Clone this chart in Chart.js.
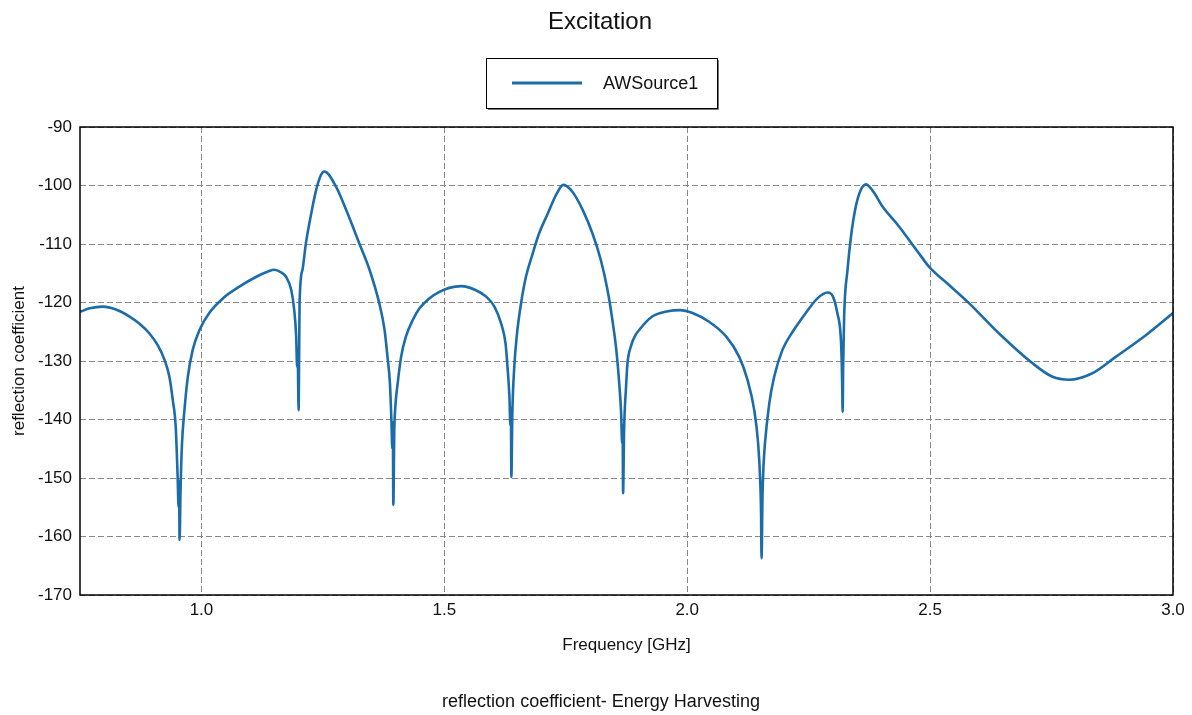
<!DOCTYPE html>
<html>
<head>
<meta charset="utf-8">
<script src="https://cdn.jsdelivr.net/npm/chart.js@4.4.0/dist/chart.umd.min.js"></script>
<style>
  html, body { margin: 0; padding: 0; background: #fff; }
</style>
</head>
<body>
<canvas id="chart" width="1192" height="715"></canvas>
<script>
// frequency sweep (GHz) and reflection coefficient
const freqGHz = [
  0.75, 0.770, 0.797, 0.824, 0.852, 0.872, 0.893, 0.910, 0.924, 0.934, 0.941, 0.947, 0.951, 0.953, 0.954,
  0.955, 0.957, 0.960, 0.965, 0.972, 0.982, 0.996, 1.016, 1.044, 1.078, 1.113, 1.137, 1.150, 1.163, 1.174,
  1.185, 1.191, 1.195, 1.197, 1.198, 1.200, 1.201, 1.202, 1.208, 1.215, 1.226, 1.236, 1.246, 1.253,
  1.277, 1.298, 1.325, 1.346, 1.366, 1.377, 1.383, 1.388, 1.391, 1.393, 1.394, 1.395, 1.397, 1.399,
  1.404, 1.411, 1.421, 1.435, 1.449, 1.469, 1.490, 1.510, 1.535, 1.565, 1.586, 1.603, 1.617, 1.626,
  1.630, 1.634, 1.636, 1.637, 1.638, 1.640, 1.644, 1.649, 1.658, 1.668, 1.682, 1.695, 1.713, 1.730,
  1.745, 1.764, 1.785, 1.805, 1.822, 1.836, 1.846, 1.854, 1.860, 1.864, 1.866, 1.867, 1.868, 1.870,
  1.874, 1.877, 1.884, 1.892, 1.901, 1.928, 1.960, 1.985, 2.011, 2.045, 2.080, 2.107, 2.124, 2.138,
  2.146, 2.150, 2.152, 2.153, 2.155, 2.157, 2.160, 2.169, 2.179, 2.196, 2.217, 2.244, 2.268, 2.289,
  2.300, 2.309, 2.316, 2.318, 2.319, 2.320, 2.321, 2.323, 2.330, 2.337, 2.347, 2.357, 2.368, 2.381,
  2.402, 2.436, 2.477, 2.498, 2.539, 2.580, 2.642, 2.711, 2.752, 2.786, 2.834, 2.882, 2.944, 3.0
];
const reflection = [
  -121.6, -121.0, -120.7, -121.2, -122.4, -123.6, -125.3, -127.3, -129.8, -132.7, -136.7, -141.2, -149.8, -155.0, -150.5,
  -160.6, -152.0, -144.1, -138.4, -132.7, -128.1, -124.7, -121.8, -119.3, -117.3, -115.6, -114.7, -114.4, -114.8, -115.6,
  -117.9, -121.3, -125.8, -131.0, -128.0, -138.4, -130.0, -120.1, -114.4, -109.9, -104.8, -100.8, -98.2, -97.6,
  -100.2, -104.2, -109.9, -114.4, -120.1, -124.7, -129.3, -133.8, -140.0, -145.0, -140.5, -154.6, -142.0, -138.0,
  -133.8, -129.3, -125.8, -123.0, -121.0, -119.3, -118.2, -117.5, -117.2, -117.9, -119.0, -120.7, -123.6, -127.0,
  -131.0, -136.1, -141.0, -138.0, -149.8, -139.0, -131.0, -125.8, -120.1, -115.6, -111.6, -108.2, -104.8, -101.6,
  -99.9, -101.1, -104.2, -108.2, -112.7, -117.9, -123.0, -128.1, -133.8, -139.0, -144.0, -141.0, -152.6, -142.0,
  -134.5, -130.4, -127.5, -125.8, -124.7, -122.4, -121.5, -121.3, -121.8, -123.3, -125.8, -129.3, -133.2, -138.4,
  -144.1, -150.0, -156.0, -163.7, -153.0, -148.0, -144.1, -137.2, -132.7, -128.1, -125.0, -121.8, -119.3, -118.3,
  -119.0, -121.8, -125.8, -130.0, -134.0, -138.7, -131.0, -122.4, -114.4, -108.8, -103.6, -100.8, -99.8, -100.8,
  -103.6, -107.0, -111.6, -113.9, -117.0, -120.1, -125.3, -130.4, -132.7, -133.2, -132.1, -129.3, -125.6, -121.8
];
const xTicks = [1.0, 1.5, 2.0, 2.5, 3.0];
const yTicks = [-90, -100, -110, -120, -130, -140, -150, -160, -170];

const seriesName = "AWSource1";
const lineColor = "#1b6ca8";
const font = "Liberation Sans, Arial, sans-serif";

// title, framed legend, plot border and caption
const decor = {
  id: "decor",
  afterDraw(chart) {
    const ctx = chart.ctx;
    const a = chart.chartArea;
    ctx.save();
    ctx.strokeStyle = "#000";
    ctx.lineWidth = 1.5;
    ctx.strokeRect(a.left, a.top, a.right - a.left, a.bottom - a.top);

    ctx.fillStyle = "#111";
    ctx.textAlign = "center";
    ctx.textBaseline = "middle";
    ctx.font = "24px " + font;
    ctx.fillText("Excitation", 600, 22);

    ctx.font = "18px " + font;
    ctx.fillText("reflection coefficient- Energy Harvesting", 601, 702);

    // legend box
    ctx.fillStyle = "#fff";
    ctx.fillRect(486, 58, 231, 50);
    ctx.strokeStyle = "#000";
    ctx.lineWidth = 1;
    ctx.strokeRect(486.5, 58.5, 231, 50);
    ctx.strokeStyle = "#777";
    ctx.beginPath();
    ctx.moveTo(488, 109.5); ctx.lineTo(718.5, 109.5); ctx.lineTo(718.5, 60);
    ctx.stroke();
    ctx.strokeStyle = lineColor;
    ctx.lineWidth = 3;
    ctx.beginPath();
    ctx.moveTo(512, 83); ctx.lineTo(582, 83);
    ctx.stroke();
    ctx.fillStyle = "#111";
    ctx.textAlign = "left";
    ctx.font = "18px " + font;
    ctx.fillText(seriesName, 603, 84);
    ctx.restore();
  }
};

new Chart(document.getElementById("chart"), {
  type: "line",
  data: {
    datasets: [{
      label: seriesName,
      data: freqGHz.map((f, i) => ({ x: f, y: reflection[i] })),
      borderColor: lineColor,
      borderWidth: 2.6,
      pointRadius: 0,
      cubicInterpolationMode: "monotone",
      fill: false
    }]
  },
  options: {
    responsive: false,
    animation: false,
    layout: { padding: { top: 127, right: 19, bottom: 0, left: 0 } },
    plugins: {
      legend: { display: false },
      title: { display: false },
      tooltip: { enabled: false }
    },
    scales: {
      x: {
        type: "linear",
        min: 0.75,
        max: 3.0,
        afterBuildTicks: s => { s.ticks = xTicks.map(v => ({ value: v })); },
        afterFit: s => { s.height = 120; },
        ticks: {
          color: "#111",
          font: { family: font, size: 17 },
          padding: 5,
          maxRotation: 0,
          callback: v => v.toFixed(1)
        },
        grid: { color: "#888", lineWidth: 1, drawTicks: false },
        border: { display: false, dash: [6, 3] },
        title: {
          display: true,
          text: "Frequency [GHz]",
          color: "#111",
          font: { family: font, size: 17 },
          padding: { top: 0, bottom: 59 }
        }
      },
      y: {
        min: -170,
        max: -90,
        afterBuildTicks: s => { s.ticks = yTicks.map(v => ({ value: v })); },
        afterFit: s => { s.width = 80; },
        ticks: {
          color: "#111",
          font: { family: font, size: 17 },
          padding: 8
        },
        grid: { color: "#888", lineWidth: 1, drawTicks: false },
        border: { display: false, dash: [6, 3] },
        title: {
          display: true,
          text: "reflection coefficient",
          color: "#111",
          font: { family: font, size: 17 },
          padding: { top: 9, bottom: 0 }
        }
      }
    }
  },
  plugins: [decor]
});
</script>
</body>
</html>
